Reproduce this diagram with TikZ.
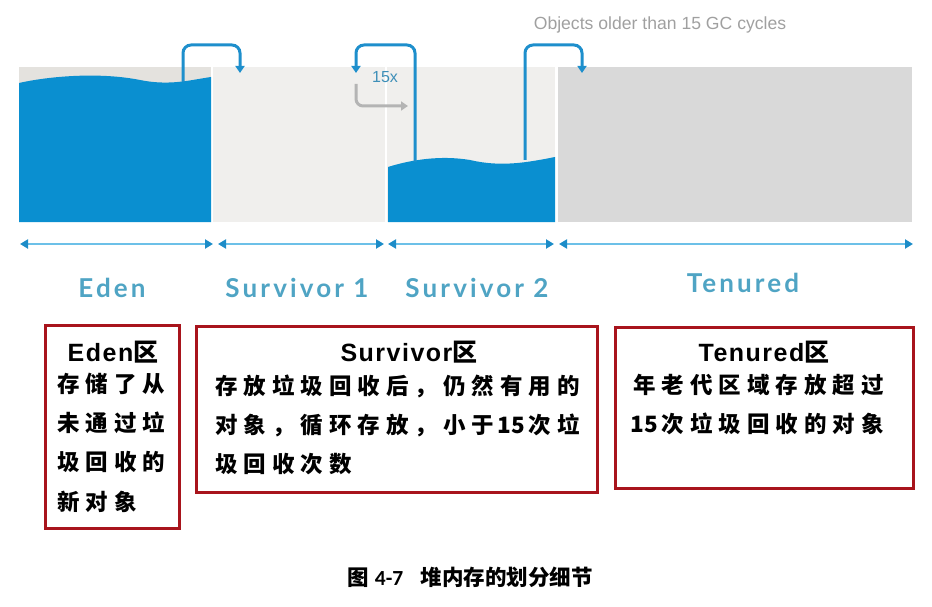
\documentclass[tikz,border=0pt]{standalone}
\usepackage{fontspec}
\setmainfont{Liberation Sans}
\newfontfamily\cjk{Noto Sans CJK SC}
\newfontfamily\labfont{Lato}[LetterSpace=12]
\newfontfamily\titfont{Liberation Sans}[LetterSpace=6]
\newfontfamily\capnum{Carlito}
\usetikzlibrary{arrows.meta}
\definecolor{water}{HTML}{0A8FD0}
\definecolor{flowblue}{HTML}{1E8FCC}
\definecolor{edenbg}{HTML}{E4E2DE}
\definecolor{survbg}{HTML}{F0EFED}
\definecolor{tenbg}{HTML}{D9D9D9}
\definecolor{dimline}{HTML}{6CC0E8}
\definecolor{dimtip}{HTML}{1C8CC8}
\definecolor{labcol}{HTML}{4FA4C4}
\definecolor{boxred}{HTML}{A8141C}
\definecolor{txtgray}{HTML}{A0A0A0}
\definecolor{retgray}{HTML}{B4B4B4}
\definecolor{numblue}{HTML}{3E8FB8}
\makeatletter
\newlength\cjkpitch
\setlength\cjkpitch{28.5pt}
\newcommand\spreadline[1]{\@tfor\sp@ch:=#1\do{\makebox[\cjkpitch][c]{\sp@ch}}}
\makeatother
\tikzset{
  flow/.style={draw=flowblue,line width=3pt,rounded corners=8pt,-{Triangle[width=9pt,length=7pt]}},
  retflow/.style={draw=retgray,line width=3pt,rounded corners=7pt,-{Triangle[width=9pt,length=7pt]}},
  dim/.style={draw=dimline,line width=2pt,{Triangle[width=9pt,length=8pt,color=dimtip]}-{Triangle[width=9pt,length=8pt,color=dimtip]}},
  lab/.style={text=labcol,font=\labfont\fontsize{26}{30}\selectfont\bfseries},
  redbox/.style={draw=boxred,line width=3pt},
  boxtitle/.style={font=\titfont\fontsize{25}{28}\selectfont\bfseries},
  cjkline/.style={anchor=west,inner sep=0pt,font=\cjk\bfseries\fontsize{22.5}{26}\selectfont},
}
\begin{document}
\begin{tikzpicture}[x=1pt,y=-1pt]
\useasboundingbox (0,0) rectangle (932,607);
% regions
\fill[edenbg] (19,67) rectangle (211,222);
\fill[water] (19,83) .. controls (50,76) and (100,72) .. (140,80)
  .. controls (170,86) and (190,80) .. (211,77) -- (211,222) -- (19,222) -- cycle;
\fill[survbg] (213,67) rectangle (385,222);
\fill[survbg] (387,67) rectangle (555,222);
\fill[water] (388,167) .. controls (410,160) and (440,155) .. (470,160)
  .. controls (500,167) and (525,163) .. (555,157) -- (555,222) -- (388,222) -- cycle;
\fill[tenbg] (558,67) rectangle (912,222);
% flow arrows
\coordinate (e0) at (183,82);
\coordinate (e1) at (240,73);
\draw[flow] (e0) -- (183,45) -- (240,45) -- (e1);
\coordinate (s0) at (415,162);
\coordinate (s1) at (356,73);
\draw[flow] (s0) -- (415,45) -- (356,45) -- (s1);
\coordinate (g0) at (356,84);
\coordinate (g1) at (408,106);
\draw[retflow] (g0) -- (356,106) -- (g1);
\node[text=numblue,font=\fontsize{16}{18}\selectfont] (fifteen) at (385,77) {15x};
\coordinate (t0) at (525,160);
\coordinate (t1) at (582,73);
\draw[flow] (t0) -- (525,45) -- (582,45) -- (t1);
\node[text=txtgray,font=\fontsize{17.6}{20}\selectfont] (old) at (660,25) {Objects older than 15 GC cycles};
% dimension arrows
\coordinate (d0) at (20,244);
\coordinate (d1) at (213,244);
\coordinate (d2) at (218,244);
\coordinate (d3) at (384,244);
\coordinate (d4) at (388,244);
\coordinate (d5) at (554,244);
\coordinate (d6) at (559,244);
\coordinate (d7) at (913,244);
\draw[dim] (d0) -- (d1);
\draw[dim] (d2) -- (d3);
\draw[dim] (d4) -- (d5);
\draw[dim] (d6) -- (d7);
\node[lab] (leden) at (112,288) {Eden};
\node[lab] (lsurv1) at (297,288) {Survivor 1};
\node[lab] (lsurv2) at (477,288) {Survivor 2};
\node[lab] (lten) at (743,283) {Tenured};
% red boxes
\draw[redbox] (45,325) rectangle (179,528);
\draw[redbox] (196,326) rectangle (597,492);
\draw[redbox] (615,327) rectangle (913,488);
\node[boxtitle] (teden) at (113,352) {Eden{\cjk 区}};
\node[boxtitle] (tsurv) at (409,352) {Survivor{\cjk 区}};
\node[boxtitle] (tten) at (764,352) {Tenured{\cjk 区}};
\node[cjkline] (a1) at (54,384) {\spreadline{存储了从}};
\node[cjkline] (a2) at (54,423) {\spreadline{未通过垃}};
\node[cjkline] (a3) at (54,462) {\spreadline{圾回收的}};
\node[cjkline] (a4) at (54,502) {\spreadline{新对象}};
\node[cjkline] (b1) at (212,386) {\spreadline{存放垃圾回收后，仍然有用的}};
\node[cjkline] (b2) at (212,425) {\spreadline{对象，循环存放，小于{15}次垃}};
\node[cjkline] (b3) at (212,464) {\spreadline{圾回收次数}};
\node[cjkline] (c1) at (630,385) {\spreadline{年老代区域存放超过}};
\node[cjkline] (c2) at (630,424) {\spreadline{{15}次垃圾回收的对象}};
% caption
\node[font=\fontsize{21.5}{24}\selectfont\bfseries] (cap) at (470,577) {{\cjk 图} {\capnum 4-7}\hspace{0.8em}{\cjk 堆内存的划分细节}};
\end{tikzpicture}
\end{document}
